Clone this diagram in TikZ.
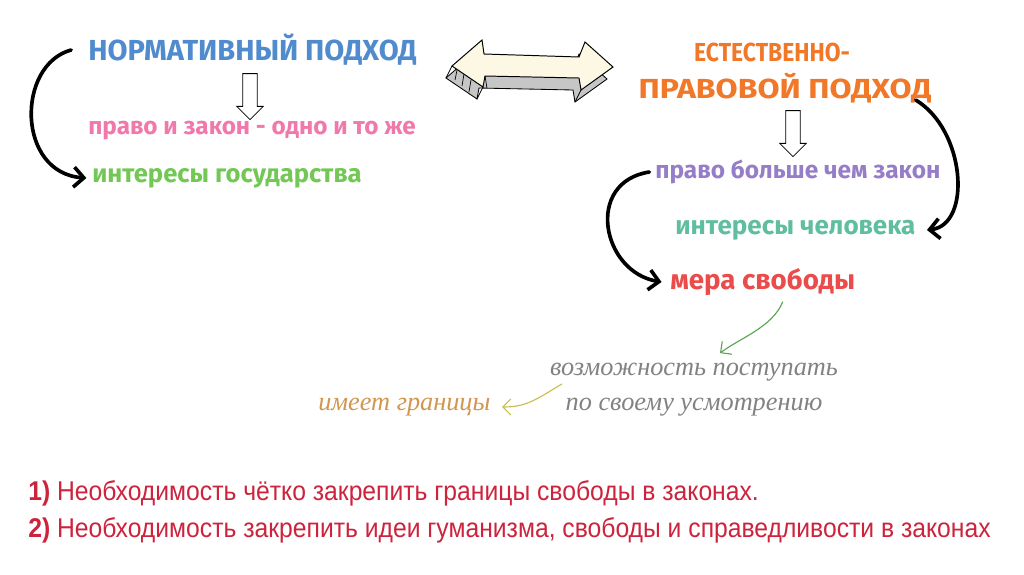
\documentclass[tikz,border=0pt]{standalone}
\usepackage{fontspec}
\setmainfont{Fira Sans}
\newfontfamily\handfont{Fira Sans}
\newfontfamily\penfont{Liberation Serif}
\newfontfamily\plainfont[FakeStretch=0.91]{Liberation Sans}
\usetikzlibrary{arrows.meta,positioning,shapes.arrows,calc}
\definecolor{normblue}{RGB}{80,140,205}
\definecolor{lawpink}{RGB}{240,120,170}
\definecolor{stategreen}{RGB}{115,200,85}
\definecolor{natorange}{RGB}{240,120,40}
\definecolor{lawpurple}{RGB}{150,125,200}
\definecolor{humanteal}{RGB}{95,190,160}
\definecolor{freered}{RGB}{235,75,75}
\definecolor{notegray}{RGB}{130,130,130}
\definecolor{limitbrown}{RGB}{210,150,80}
\definecolor{conclred}{RGB}{205,35,60}
\definecolor{leafgreen}{RGB}{90,165,80}
\definecolor{strawyellow}{RGB}{200,190,80}
\definecolor{creamface}{RGB}{253,248,228}
\newcommand{\fsz}[1]{\fontsize{#1}{1.3\dimexpr#1pt\relax}\selectfont}
\tikzset{
  title/.style={font=\handfont\bfseries, inner sep=0pt},
  thesis/.style={font=\handfont\bfseries, inner sep=0pt, anchor=west},
  note/.style={font=\penfont\itshape\fontsize{18.7}{25}\selectfont, text=notegray, align=center, inner sep=0pt},
  concl/.style={font=\plainfont\fontsize{19.3}{22}\selectfont, text=conclred, anchor=west, inner sep=0pt},
  curvearrow/.style={line width=2.6pt, line cap=round, line join=round,
                     -{Straight Barb[length=2.5mm, width=5mm]}},
  thinarrow/.style={line width=0.8pt, line cap=round, -{Straight Barb[length=2mm, width=4mm]}},
  hollow/.style={single arrow, draw, fill=white, line width=0.6pt, shape border rotate=270,
                 minimum height=1.15cm, minimum width=0.65cm, single arrow head extend=0.15cm,
                 inner sep=0.17cm}
}
\begin{document}
\begin{tikzpicture}[x=0.025cm, y=-0.025cm]
  \useasboundingbox[fill=white] (0,0) rectangle (1024,574);

  % left column
  \node[title, anchor=west, text=normblue] (norm) at (88,50) {\fsz{20.6}НОРМАТИВНЫЙ ПОДХОД};
  \node[hollow] (down1) at (250,93) {};
  \node[thesis, text=lawpink] (same) at (88,131) {\fsz{17.3}право и закон - одно и то же};
  \node[thesis, text=stategreen] (state) at (92,178) {\fsz{18.2}интересы государства};
  \draw[curvearrow] ([xshift=-12]norm.west) .. controls +(-55,15) and +(-70,-5) .. ([xshift=-4]state.west);

  % double arrow
  \fill[gray!45, draw=black, line width=0.6pt] (446,78) -- (476,52) -- (478,66) -- (573,69) -- (579,54)
    -- (607,79) -- (575,102) -- (573,90) -- (479,88) -- (477,99) -- cycle;
  \draw[fill=creamface, line width=0.7pt] (452,66) -- (482,40) -- (484,54) -- (579,57) -- (585,42)
    -- (613,67) -- (581,90) -- (579,78) -- (485,76) -- (483,87) -- cycle;
  \draw[line width=0.5pt] (452,66) -- (446,78) (483,87) -- (477,99) (581,90) -- (575,102)
    (485,76) -- (487,88) (455,80) -- (457,70) (462,86) -- (464,74) (469,92) -- (471,80);

  % right column
  \node[title, text=natorange] (nattop) at (772,52) {\scalebox{0.88}[1]{\fsz{18.5}ЕСТЕСТВЕННО-}};
  \node[title, text=natorange] (nat) at (785,88) {\scalebox{1.16}[1]{\fsz{19.6}ПРАВОВОЙ ПОДХОД}};
  \node[hollow] (down2) at (793,130) {};
  \node[thesis, text=lawpurple] (more) at (655,172) {\fsz{17.4}право больше чем закон};
  \node[thesis, text=humanteal] (human) at (675,230) {\fsz{18.5}интересы человека};
  \node[thesis, text=freered] (measure) at (670,282) {\fsz{19.7}мера свободы};
  \draw[curvearrow] ($(nat.east)+(-16,12)$) .. controls +(50,30) and +(45,-5) .. ([xshift=8]human.east);
  \draw[curvearrow] ([xshift=-4]more.west) .. controls +(-65,10) and +(-60,-10) .. ([xshift=-6]measure.west);

  % freedom notes
  \node[note] (act) at (694,390) {возможность поступать\\по своему усмотрению};
  \node[note, text=limitbrown, anchor=west] (limit) at (318,407) {имеет границы};
  \draw[thinarrow, leafgreen] ($(measure.south)+(20,6)$) .. controls +(-10,25) and +(20,-15) .. ($(act.north)+(26,-10)$);
  \draw[thinarrow, strawyellow] ($(act.west)+(12,-6)$) .. controls +(-25,15) and +(25,0) .. ([xshift=8]limit.east);

  % conclusions
  \node[concl] (first) at (28,493) {\textbf{1)} Необходимость чётко закрепить границы свободы в законах.};
  \node[concl] (second) at (28,530) {\textbf{2)} Необходимость закрепить идеи гуманизма, свободы и справедливости в законах};
\end{tikzpicture}
\end{document}
